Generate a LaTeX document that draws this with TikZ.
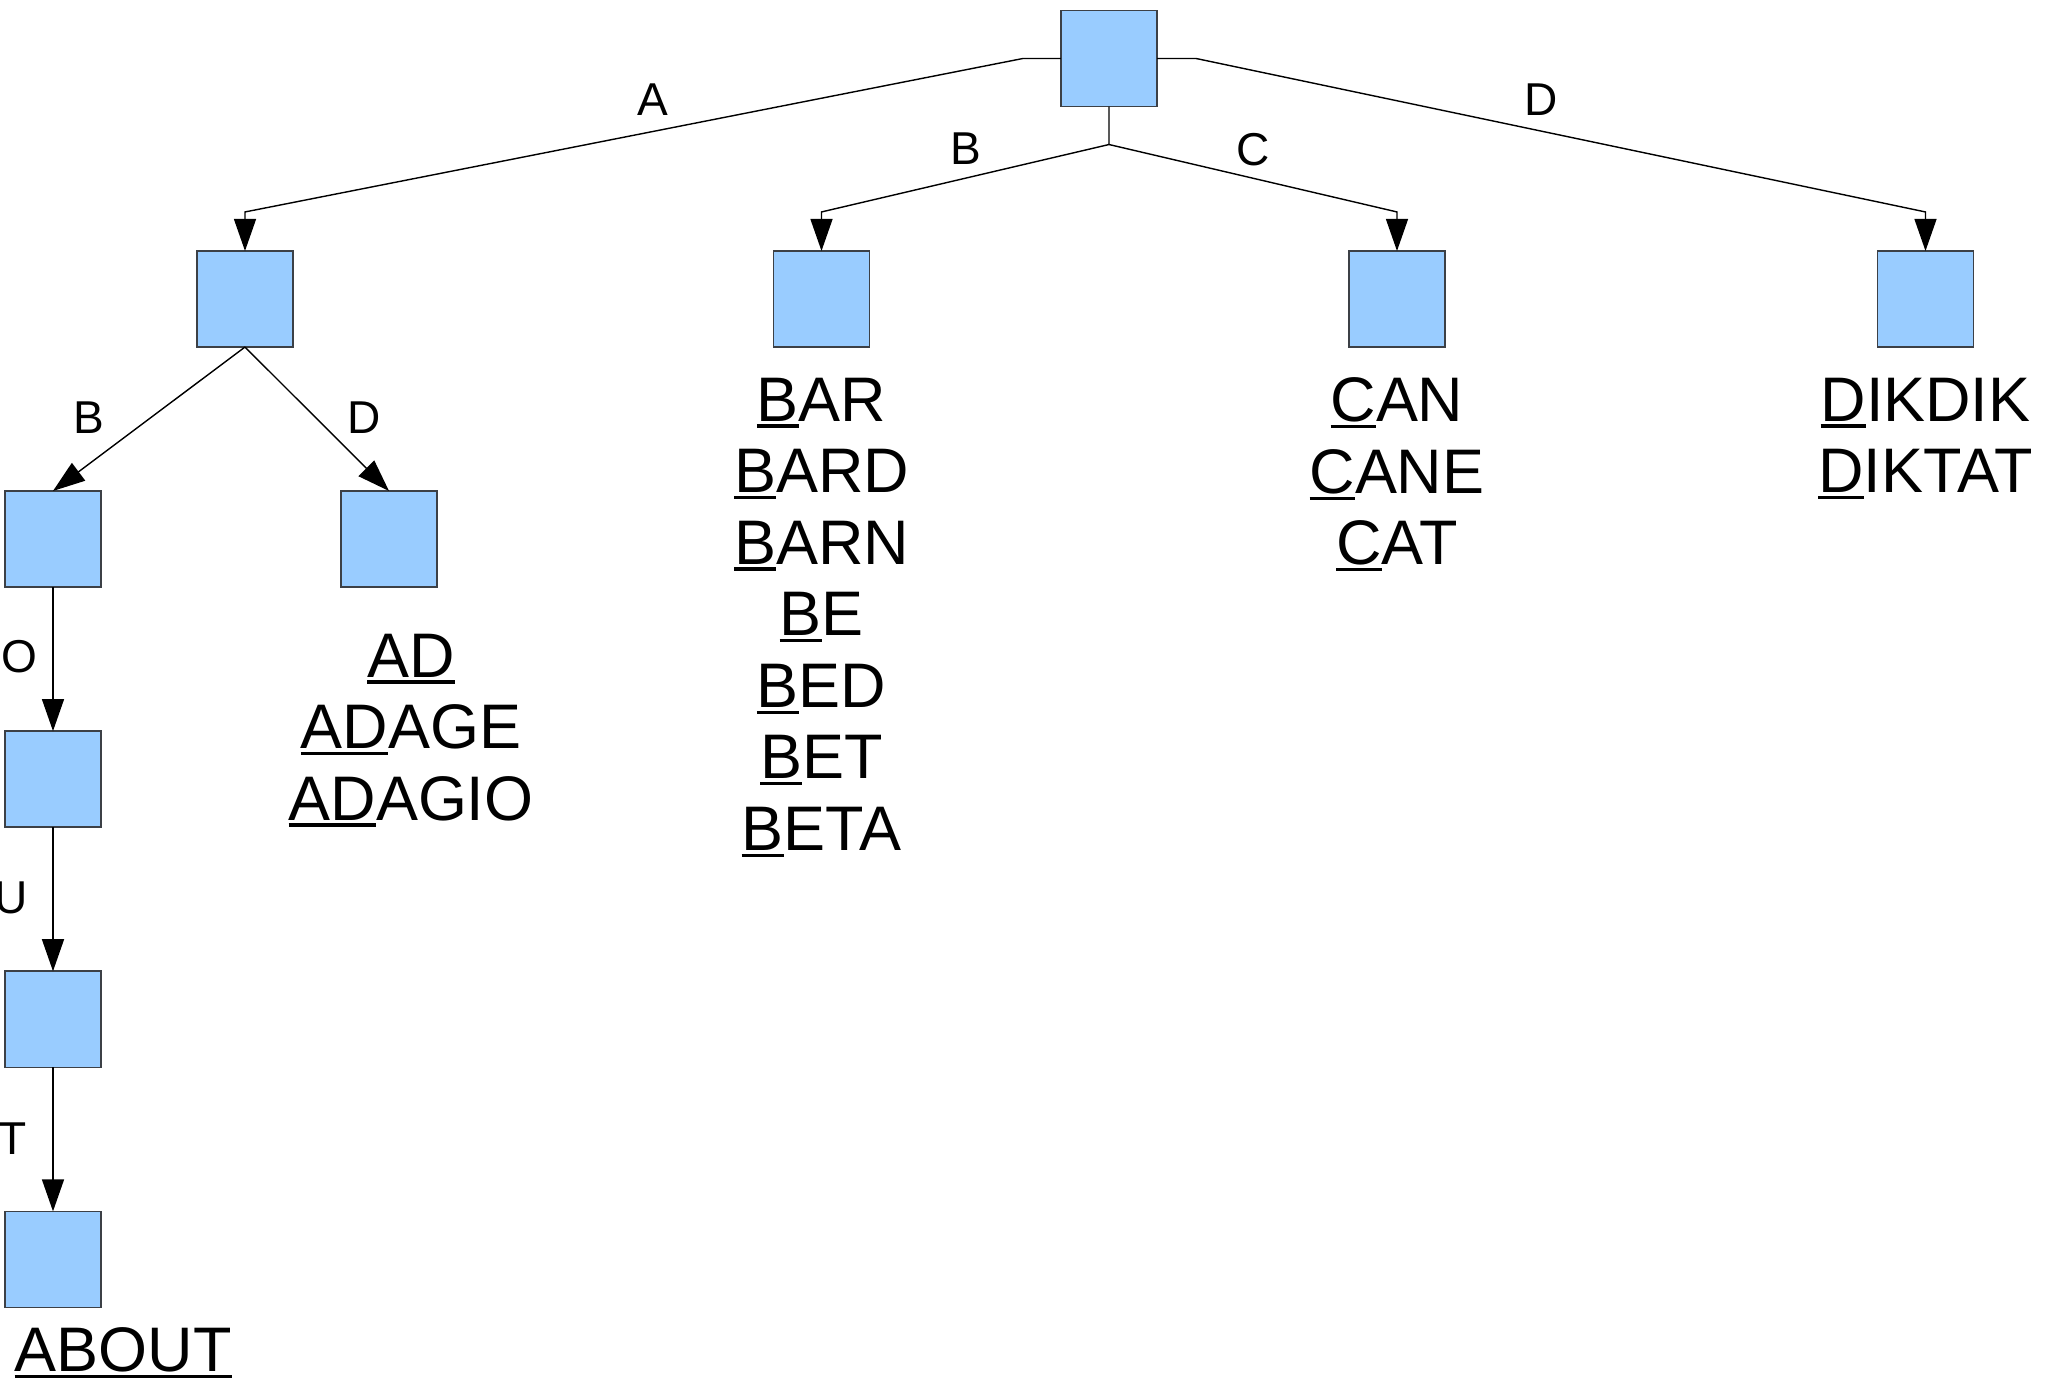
\documentclass[tikz,border=0pt]{standalone}
\usepackage{fontspec}
\setmainfont{Liberation Sans}
\usetikzlibrary{arrows.meta, positioning, calc}
\definecolor{boxC} {RGB}{153, 204, 255}
\definecolor{lineC}{RGB}{ 60,  64,  70}
% underlined prefix of a stored word
\newcommand{\pfx}[1]{\setbox0=\hbox{#1}\rlap{\rule[-1.85pt]{\wd0}{0.9pt}}\box0}
\tikzset{
  trie/.style  = {rectangle, draw=lineC, fill=boxC, line width=0.45pt,
                  minimum size=0.96cm, inner sep=0pt, outer sep=0pt},
  edge/.style  = {-{Triangle[length=0.32cm, width=0.22cm]}, line width=0.4pt},
  lbl/.style   = {font=\fontsize{13.1}{15}\selectfont, inner sep=0pt},
  words/.style = {font=\fontsize{17.9}{20.34}\selectfont, align=center,
                  inner sep=0pt},
}

\begin{document}
\begin{tikzpicture}[x=0.01cm, y=0.01cm]
\useasboundingbox (0,0) rectangle (2056,-1383);

% ============================================================
%  Trie nodes
% ============================================================
\node[trie] (root) at (1109,-58.5) {};

\node[trie] (a) at (245,-299)  {};
\node[trie] (b) at (821.5,-299) {};
\node[trie] (c) at (1397,-299) {};
\node[trie] (d) at (1925.5,-299) {};

\node[trie] (ab) at (53,-539)  {};
\node[trie] (ad) at (389,-539) {};

% A-B-O-U-T chain
\node[trie, below=1.44cm of ab]   (abo)   {};
\node[trie, below=1.44cm of abo]  (abou)  {};
\node[trie, below=1.44cm of abou] (about) {};

% ============================================================
%  Connectors
% ============================================================
\draw[edge] (root.west) -- ++(-38,0) -- ($(a.north)+(0,39)$) -- (a.north);
\draw[edge] (root.east) -- ++(39,0)  -- ($(d.north)+(0,39)$) -- (d.north);
\draw[edge] (root.south) -- ++(0,-38) coordinate (fork)
  -- ($(b.north)+(0,39)$) -- (b.north);
\draw[edge] (fork) -- ($(c.north)+(0,39)$) -- (c.north);

\draw[edge] (a.south) -- (ab.north);
\draw[edge] (a.south) -- (ad.north);

\draw[edge] (ab.south)   -- (abo.north);
\draw[edge] (abo.south)  -- (abou.north);
\draw[edge] (abou.south) -- (about.north);

% --- edge letters ---
\node[lbl] (eA) at (653,-100)  {A};
\node[lbl] (eB) at (966,-149)  {B};
\node[lbl] (eC) at (1253,-150) {C};
\node[lbl] (eD) at (1541,-100) {D};

\node[lbl] (eAB) at (88.5,-418)  {B};
\node[lbl] (eAD) at (364.5,-418) {D};

\node[lbl] (eO) at (19.5,-657) {O};
\node[lbl] (eU) at (11,-898)   {U};
\node[lbl] (eT) at (13,-1139)  {T};

% ============================================================
%  Stored words below each node
% ============================================================
\node[words, below=0.46cm of ad, xshift=0.22cm] (wad)
  {\pfx{AD}\\ \pfx{AD}AGE\\ \pfx{AD}AGIO};

\node[words, below=0.30cm of b] (wb)
  {\pfx{B}AR\\ \pfx{B}ARD\\ \pfx{B}ARN\\ \pfx{B}E\\ \pfx{B}ED\\ \pfx{B}ET\\ \pfx{B}ETA};

\node[words, below=0.30cm of c] (wc)
  {\pfx{C}AN\\ \pfx{C}ANE\\ \pfx{C}AT};

\node[words, below=0.30cm of d] (wd)
  {\pfx{D}IKDIK\\ \pfx{D}IKTAT};

\node[words, below right=0.195cm and 0.09cm of about.south west] (wabout)
  {\pfx{ABOUT}};

\end{tikzpicture}
\end{document}
